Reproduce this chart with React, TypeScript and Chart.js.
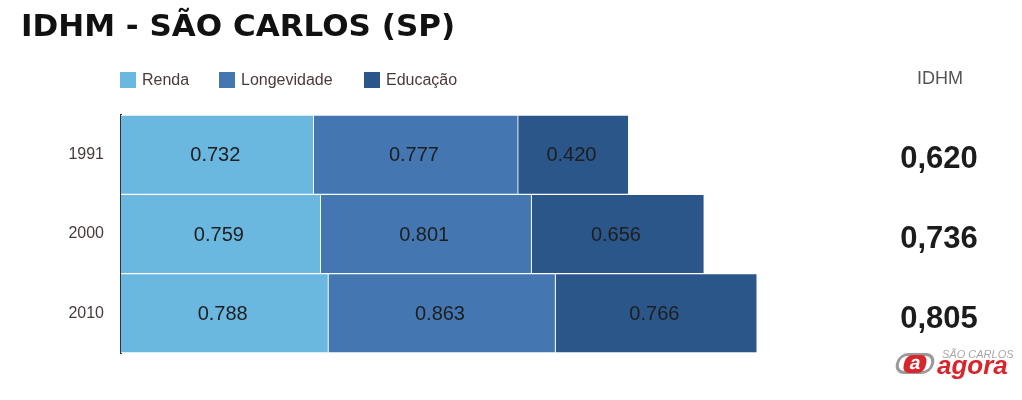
import React, { useEffect, useRef } from "react";
import { Chart, registerables } from "chart.js";

Chart.register(...registerables);

const years = ["1991", "2000", "2010"];
const renda = [0.732, 0.759, 0.788];
const longevidade = [0.777, 0.801, 0.863];
const educacao = [0.42, 0.656, 0.766];
const idhm = ["0,620", "0,736", "0,805"];
const seriesNames = ["Renda", "Longevidade", "Educação"];
const seriesColors = ["#6ab7df", "#4477b1", "#2b5689"];

const FONT = "'Liberation Sans', Arial, sans-serif";

const valueLabels = {
  id: "valueLabels",
  afterDatasetsDraw(chart: any) {
    const ctx = chart.ctx;
    ctx.save();
    ctx.font = `20px ${FONT}`;
    ctx.fillStyle = "#1e1e1e";
    ctx.textAlign = "center";
    ctx.textBaseline = "middle";
    chart.data.datasets.forEach((ds: any, di: number) => {
      const meta = chart.getDatasetMeta(di);
      meta.data.forEach((el: any, i: number) => {
        const p = el.getProps(["x", "y", "base"], true);
        const cx = (p.x + p.base) / 2 - 2;
        ctx.fillText(Number(ds.data[i]).toFixed(3), cx, p.y + 1);
      });
    });
    ctx.restore();
  },
};

export default function App() {
  const ref = useRef<HTMLCanvasElement>(null);
  useEffect(() => {
    const chart = new Chart(ref.current!, {
      type: "bar",
      data: {
        labels: years,
        datasets: [renda, longevidade, educacao].map((d, i) => ({
          label: seriesNames[i],
          data: d,
          backgroundColor: seriesColors[i],
          borderColor: "#ffffff",
          borderWidth: 1,
          barPercentage: 1,
          categoryPercentage: 1,
        })),
      },
      options: {
        indexAxis: "y",
        responsive: false,
        animation: false,
        devicePixelRatio: 1,
        layout: { padding: { top: 115, bottom: 47, left: 0, right: 243 } },
        plugins: { legend: { display: false }, title: { display: false }, tooltip: { enabled: false } },
        scales: {
          x: { stacked: true, display: false, min: 0, max: 2.5 },
          y: {
            stacked: true,
            grid: { display: false },
            border: { display: true, color: "#333333", width: 2 },
            ticks: { padding: 9, color: "#4a3b3b", font: { family: FONT, size: 16 } },
            afterFit: (s: any) => {
              s.width = 121;
            },
          },
        },
      },
      plugins: [valueLabels],
    } as any);
    return () => chart.destroy();
  }, []);

  const legendX = [120, 219, 364];
  const rowY = [158, 238, 318];

  return (
    <div style={{ position: "absolute", left: 0, top: 0, width: 1022, height: 400, background: "#fff", fontFamily: FONT, overflow: "hidden" }}>
      <canvas ref={ref} width={1022} height={400} style={{ position: "absolute", left: 0, top: 0, width: 1022, height: 400 }} />
      <div style={{ position: "absolute", left: 21, top: 5, fontFamily: "'DejaVu Sans', sans-serif", fontSize: 31, fontWeight: "bold", color: "#111", whiteSpace: "nowrap", lineHeight: "40px" }}>
        IDHM - SÃO CARLOS (SP)
      </div>
      {seriesNames.map((n, i) => (
        <div key={n} style={{ position: "absolute", left: legendX[i], top: 72, height: 16, display: "flex", alignItems: "center", whiteSpace: "nowrap" }}>
          <span style={{ display: "inline-block", width: 16, height: 16, background: seriesColors[i] }} />
          <span style={{ marginLeft: 6, fontSize: 16, color: "#4a3b3b" }}>{n}</span>
        </div>
      ))}
      <div style={{ position: "absolute", left: 880, width: 120, top: 67, textAlign: "center", fontSize: 18, color: "#555", lineHeight: "22px" }}>IDHM</div>
      {idhm.map((v, i) => (
        <div key={v} style={{ position: "absolute", left: 879, width: 120, top: rowY[i] - 18, textAlign: "center", fontSize: 31, fontWeight: "bold", color: "#1c1c1c", lineHeight: "36px" }}>
          {v}
        </div>
      ))}
      <div style={{ position: "absolute", left: 896, top: 353, width: 38, height: 21, borderRadius: 10, border: "3px solid #9a9a9a", boxSizing: "border-box", transform: "skewX(-12deg)" }} />
      <div style={{ position: "absolute", left: 904, top: 355, width: 22, height: 18, borderRadius: 7, background: "#d9262c", color: "#fff", fontSize: 19, fontWeight: "bold", textAlign: "center", lineHeight: "16px", transform: "skewX(-12deg)" }}>a</div>
      <div style={{ position: "absolute", left: 942, top: 347, fontSize: 11, fontStyle: "italic", color: "#a8a8a8", whiteSpace: "nowrap", lineHeight: "14px" }}>SÃO CARLOS</div>
      <div style={{ position: "absolute", left: 937, top: 351, fontSize: 26, fontStyle: "italic", fontWeight: "bold", color: "#d9262c", whiteSpace: "nowrap", lineHeight: "28px" }}>agora</div>
    </div>
  );
}
